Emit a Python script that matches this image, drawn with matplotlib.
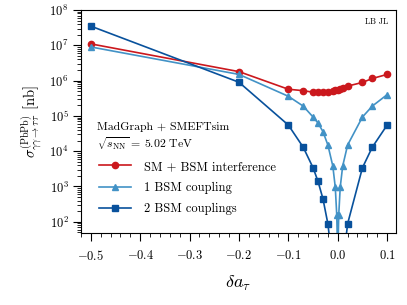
import matplotlib
matplotlib.use("Agg")
import matplotlib.pyplot as plt
from matplotlib.ticker import AutoMinorLocator, LogLocator, NullFormatter, FuncFormatter

plt.rcParams['font.family'] = 'cmr10'
plt.rcParams['mathtext.fontset'] = 'cm'
plt.rcParams['axes.formatter.use_mathtext'] = True
plt.rcParams['axes.unicode_minus'] = False

# SM + BSM interference
x_int = [-0.5, -0.2, -0.1, -0.07, -0.05, -0.04, -0.03, -0.02, -0.01, -0.005, 0.0, 0.005, 0.01, 0.02, 0.05, 0.07, 0.1]
y_int = [1.1e7, 1.8e6, 5.7e5, 5.2e5, 4.7e5, 4.7e5, 4.7e5, 4.9e5, 5.0e5, 5.3e5, 5.6e5, 5.9e5, 6.2e5, 7.0e5, 8.9e5, 1.15e6, 1.5e6]

# 1 BSM coupling
x_one = [-0.5, -0.2, -0.1, -0.07, -0.05, -0.04, -0.03, -0.02, -0.01, -0.005, -0.002, -0.001,
         0.001, 0.002, 0.005, 0.01, 0.02, 0.05, 0.07, 0.1]
y_one = [9.0e6, 1.5e6, 3.6e5, 1.9e5, 9.3e4, 6.3e4, 3.6e4, 1.5e4, 3.8e3, 9.5e2, 1.55e2, 37,
         37, 1.55e2, 9.5e2, 3.8e3, 1.5e4, 9.3e4, 1.9e5, 4.0e5]

# 2 BSM couplings
x_two = [-0.5, -0.2, -0.1, -0.07, -0.05, -0.04, -0.03, -0.02, -0.01, 0.01, 0.02, 0.05, 0.07, 0.1]
y_two = [3.5e7, 9.0e5, 5.5e4, 1.3e4, 3.4e3, 1.4e3, 4.5e2, 88, 5.5, 5.5, 88, 3.4e3, 1.3e4, 5.5e4]

c_red = '#cb181d'
c_light = '#4292c6'
c_dark = '#08519c'

fig = plt.figure(figsize=(4.07, 3.05), dpi=100)
ax = fig.add_axes([0.199, 0.236, 0.774, 0.731])

ax.plot(x_int, y_int, marker='o', ms=4.5, lw=1.2, color=c_red, label='SM + BSM interference')
ax.plot(x_one, y_one, marker='^', ms=5, lw=1.2, color=c_light, label='1 BSM coupling')
ax.plot(x_two, y_two, marker='s', ms=4.5, lw=1.2, color=c_dark, label='2 BSM couplings')

ax.set_yscale('log')
ax.set_xlim(-0.52, 0.118)
ax.set_ylim(48, 1e8)
ax.xaxis.set_minor_locator(AutoMinorLocator(5))
ax.xaxis.set_major_formatter(FuncFormatter(lambda v, p: r'$%.1f$' % (0.0 if abs(v) < 1e-9 else v)))
ax.yaxis.set_major_locator(LogLocator(base=10, numticks=20))
ax.yaxis.set_minor_locator(LogLocator(base=10, subs=range(2, 10), numticks=20))
ax.yaxis.set_minor_formatter(NullFormatter())
ax.tick_params(which='major', length=5.5, width=0.8, labelsize=9)
ax.tick_params(which='minor', length=3, width=0.6)
ax.tick_params(axis='x', which='major', pad=6)

ax.set_xlabel(r'$\delta a_\tau$', fontsize=13, labelpad=8)
ax.set_ylabel(r'$\sigma^{(\mathrm{PbPb})}_{\gamma\gamma\to\tau\tau}$ [nb]', fontsize=10.5)

ax.text(0.05, 0.475, 'MadGraph + SMEFTsim', transform=ax.transAxes, fontsize=8.5, va='center')
ax.text(0.05, 0.40, r'$\sqrt{s_{\mathrm{NN}}}$ = 5.02 TeV', transform=ax.transAxes, fontsize=8.5, va='center')
ax.text(0.975, 0.965, 'LB JL', transform=ax.transAxes, fontsize=6, ha='right', va='top')

ax.legend(loc='lower left', bbox_to_anchor=(0.02, 0.03), frameon=False, fontsize=9,
          handlelength=2.6, handletextpad=1.0, labelspacing=0.72)

fig.savefig('out.png', dpi=100)
